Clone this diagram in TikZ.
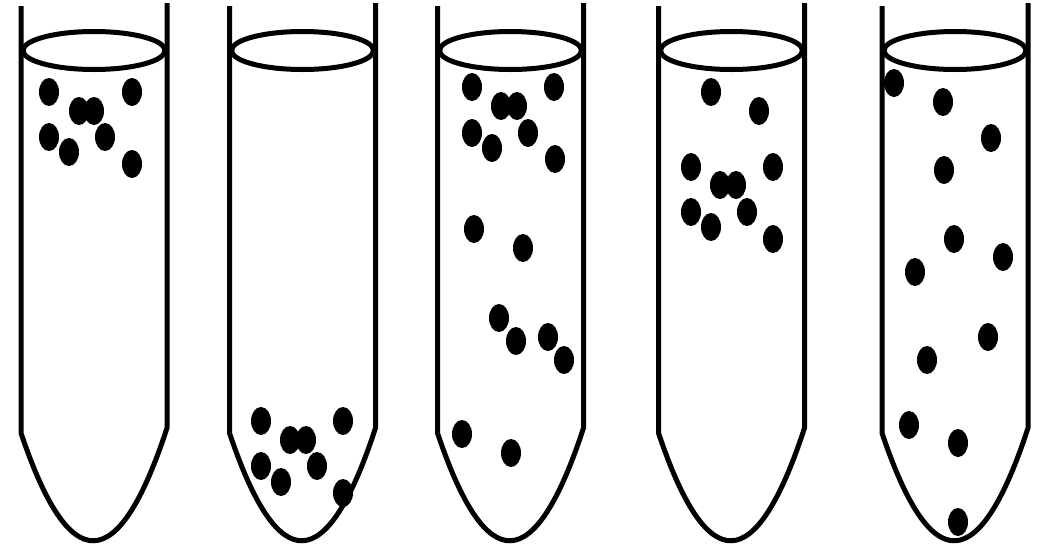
\documentclass[tikz,border=0pt]{standalone}
\begin{document}
\begin{tikzpicture}[x=1pt,y=-1pt,line width=5pt]
\useasboundingbox (0,0) rectangle (1039,547);
% tubes
\foreach \c in {94,302.5,510.5,731.5,955}{
  \draw (\c-73,6) -- (\c-73,433) .. controls (\c-24.3,578.3) and (\c+24.3,576.7) .. (\c+73,428) -- (\c+73,3);
  \draw (\c,50.5) ellipse [x radius=71, y radius=19];
}
% particles
\foreach \x/\y in {49/92,79/111,94/111,132/92,49/137,69/152,105/137,132/164,
  261/421,290/440,306/440,343/421,261/466,281/482,317/466,343/493,
  472/87,501/106,517/106,554/87,472/133,492/148,528/133,555/159,474/229,523/248,
  499/318,516/341,548/337,564/360,462/434,511/453,
  711/92,759/111,691/167,720/185,736/185,773/167,691/212,711/227,747/212,773/239,
  894/83,943/102,991/138,944/170,954/239,1003/257,915/272,988/337,927/360,909/425,958/443,958/522}
  \fill (\x,\y) ellipse [x radius=10, y radius=14];
\end{tikzpicture}
\end{document}
